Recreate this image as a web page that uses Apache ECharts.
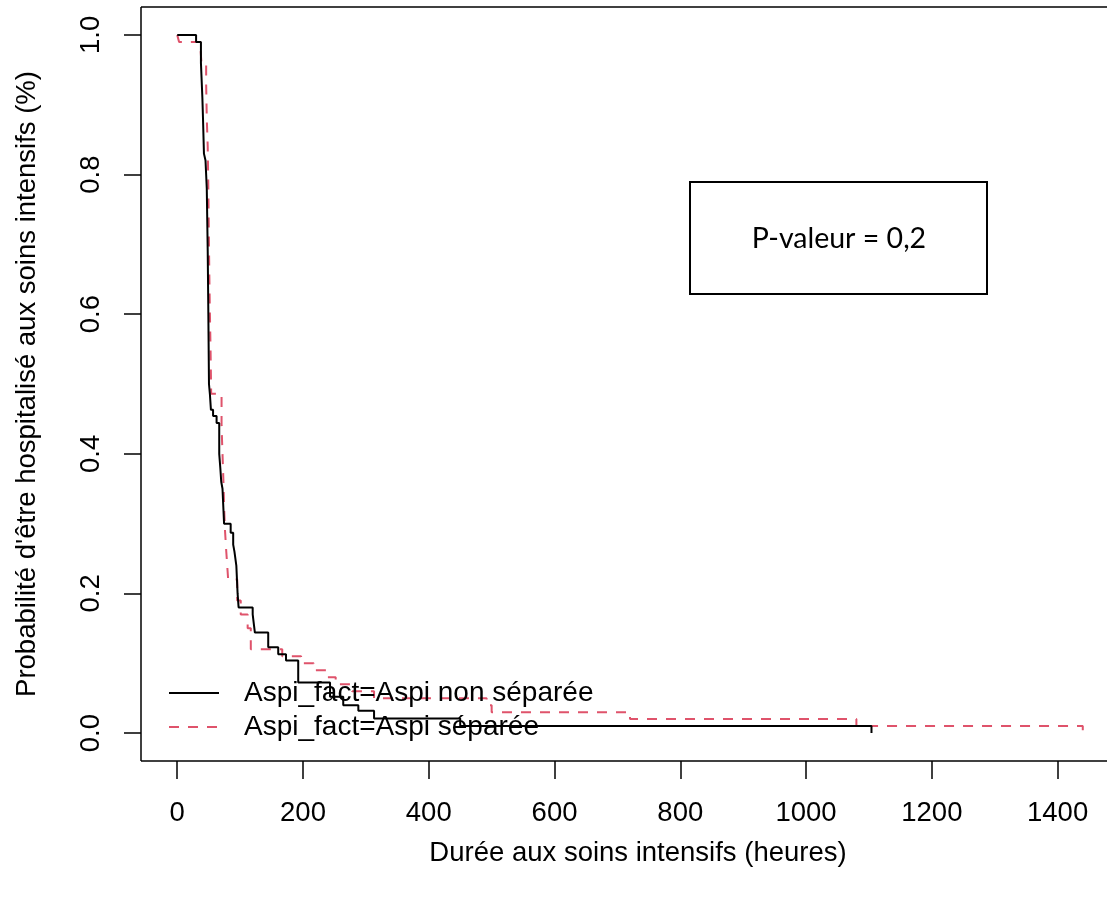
<!DOCTYPE html>
<html>
<head>
<meta charset="utf-8">
<script src="https://cdn.jsdelivr.net/npm/echarts@6/dist/echarts.min.js"></script>
<style>
html,body{margin:0;padding:0;background:#fff;overflow:hidden;}
#chart{width:1107px;height:898px;}
</style>
</head>
<body>
<div id="chart"></div>
<script>
// ---- Data ----
const seriesNames = ['Aspi_fact=Aspi non séparée', 'Aspi_fact=Aspi séparée'];

const nonSepTimes = [0, 30, 37.7, 40, 41, 42.5, 45, 47, 48.5, 49.5, 50.5, 52, 53.6, 57, 62.6, 66.8, 68.5, 70, 72, 73, 74.5, 85, 89, 91, 94, 96, 97.6, 120, 122, 123.5, 144.7, 160.6, 173, 192.4, 243, 264, 288, 313, 450, 1104];
const nonSepSurv  = [1.0, 0.99, 0.96, 0.91, 0.88, 0.83, 0.82, 0.78, 0.69, 0.60, 0.50, 0.485, 0.463, 0.454, 0.444, 0.40, 0.38, 0.36, 0.35, 0.33, 0.30, 0.287, 0.27, 0.26, 0.24, 0.20, 0.18, 0.17, 0.155, 0.144, 0.123, 0.113, 0.104, 0.0725, 0.052, 0.04, 0.032, 0.021, 0.01, 0.0];

const sepTimes = [0, 3, 37, 38.5, 46, 47, 48.5, 49.5, 50.5, 51, 52, 53, 54, 70.5, 72, 73.5, 74.7, 76, 78, 81, 95.4, 101, 112, 117, 167, 197, 217, 238, 252, 278, 313, 492, 500, 720, 1080, 1440];
const sepSurv  = [1.0, 0.99, 0.98, 0.96, 0.93, 0.88, 0.84, 0.78, 0.70, 0.66, 0.60, 0.55, 0.486, 0.44, 0.40, 0.36, 0.32, 0.29, 0.26, 0.22, 0.19, 0.17, 0.15, 0.12, 0.11, 0.10, 0.09, 0.08, 0.07, 0.06, 0.05, 0.04, 0.03, 0.02, 0.01, 0.0];

const xTicks = [0, 200, 400, 600, 800, 1000, 1200, 1400];
const yTicks = [0, 0.2, 0.4, 0.6, 0.8, 1.0];

const xTitle = 'Durée aux soins intensifs (heures)';
const yTitle = "Probabilité d'être hospitalisé aux soins intensifs (%)";
const pText = 'P-valeur = 0,2';

// ---- Chart ----
const FONT = '"Liberation Sans", Arial, Helvetica, sans-serif';
const FS = 27.5;
const chart = echarts.init(document.getElementById('chart'), null, {renderer: 'canvas'});

const pair = (ts, ss) => ts.map((t, i) => [t, ss[i]]);

const option = {
  backgroundColor: '#ffffff',
  animation: false,
  grid: {
    left: 141, top: 7, width: 978, height: 754,
    outerBoundsMode: 'none', containLabel: false,
    show: false
  },
  xAxis: {
    type: 'value', min: -57.6, max: 1497.6,
    axisLine: {show: false, onZero: false},
    splitLine: {show: false},
    axisTick: {show: true, length: 18, lineStyle: {color: '#000', width: 1.5}, customValues: xTicks},
    axisLabel: {show: true, customValues: xTicks, margin: 38, color: '#000', fontSize: FS, fontFamily: FONT,
      formatter: v => String(v)},
    name: xTitle, nameLocation: 'middle', nameGap: 78,
    nameTextStyle: {color: '#000', fontSize: FS, fontFamily: FONT, padding: [0, 0, 0, 16]}
  },
  yAxis: {
    type: 'value', min: -0.04, max: 1.04,
    axisLine: {show: false, onZero: false},
    splitLine: {show: false},
    axisTick: {show: true, length: 17, lineStyle: {color: '#000', width: 1.5}, customValues: yTicks},
    axisLabel: {show: true, customValues: yTicks, rotate: 90, margin: 36, color: '#000', fontSize: FS, fontFamily: FONT,
      formatter: v => v.toFixed(1)},
    name: yTitle, nameLocation: 'middle', nameGap: 100, nameRotate: 90,
    nameTextStyle: {color: '#000', fontSize: FS, fontFamily: FONT}
  },
  legend: {
    orient: 'vertical', left: 168, top: 679, padding: 0,
    itemWidth: 50, itemHeight: 26, itemGap: 6,
    data: seriesNames,
    itemStyle: {opacity: 0},
    textStyle: {color: '#000', fontSize: 28, fontFamily: FONT, padding: [0, 0, 0, 20]}
  },
  series: [
    {
      name: seriesNames[0], type: 'line', step: 'end', symbol: 'none',
      data: pair(nonSepTimes, nonSepSurv),
      lineStyle: {color: '#000000', width: 2},
      itemStyle: {color: '#000000'}, z: 3
    },
    {
      name: seriesNames[1], type: 'line', step: 'end', symbol: 'none',
      data: pair(sepTimes, sepSurv),
      lineStyle: {color: '#DF536B', width: 2, type: [10, 9]},
      itemStyle: {color: '#DF536B'}, z: 2
    }
  ],
  graphic: [
    {type: 'line', shape: {x1: 141, y1: 7, x2: 1200, y2: 7}, style: {stroke: '#000', lineWidth: 1.5}, silent: true},
    {type: 'line', shape: {x1: 141, y1: 7, x2: 141, y2: 761}, style: {stroke: '#000', lineWidth: 1.5}, silent: true},
    {type: 'line', shape: {x1: 141, y1: 761, x2: 1200, y2: 761}, style: {stroke: '#000', lineWidth: 1.5}, silent: true},
    {type: 'rect', shape: {x: 690, y: 182, width: 297, height: 112},
     style: {fill: '#fff', stroke: '#000', lineWidth: 2}, z: 10},
    {type: 'text', x: 839, y: 239,
     style: {text: pText, fill: '#000', font: '28.5px Lato, "Open Sans", sans-serif', align: 'center', verticalAlign: 'middle'}, z: 11}
  ]
};
chart.setOption(option);
</script>
</body>
</html>
